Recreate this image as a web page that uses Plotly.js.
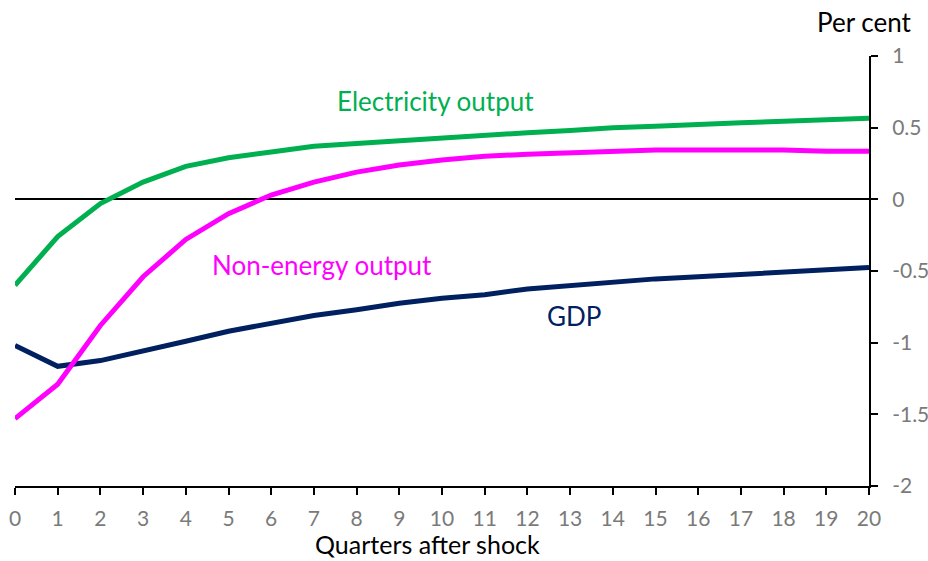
<!DOCTYPE html>
<html>
<head>
<meta charset="utf-8">
<script src="https://cdn.plot.ly/plotly-3.0.1.min.js"></script>
<style>html,body{margin:0;padding:0;background:#fff;}#chart{width:928px;height:561px;}</style>
</head>
<body>
<div id="chart"></div>
<script>
const quarters = [0,1,2,3,4,5,6,7,8,9,10,11,12,13,14,15,16,17,18,19,20];
const electricity = [-0.6,-0.26,-0.03,0.12,0.23,0.29,0.33,0.37,0.39,0.41,0.43,0.445,0.465,0.48,0.5,0.51,0.525,0.535,0.545,0.555,0.565];
const nonEnergy = [-1.53,-1.29,-0.88,-0.54,-0.28,-0.10,0.03,0.12,0.19,0.24,0.275,0.30,0.315,0.325,0.335,0.345,0.345,0.345,0.345,0.335,0.335];
const gdp = [-1.02,-1.165,-1.125,-1.06,-0.99,-0.92,-0.865,-0.81,-0.77,-0.725,-0.69,-0.665,-0.625,-0.6,-0.58,-0.555,-0.54,-0.525,-0.505,-0.495,-0.475];
const yTickVals = [1,0.5,0,-0.5,-1,-1.5,-2];
const yTickText = ["1","0.5","0","-0.5","-1","-1.5","-2"];
const xTickVals = quarters;
const xTickText = quarters.map(String);

const FONT = "Lato, 'Open Sans', sans-serif";
const traces = [
  {x: quarters, y: gdp, mode: 'lines', line: {color: '#002060', width: 5}, name: 'GDP'},
  {x: quarters, y: nonEnergy, mode: 'lines', line: {color: '#FF00FF', width: 5}, name: 'Non-energy output'},
  {x: quarters, y: electricity, mode: 'lines', line: {color: '#00B050', width: 5}, name: 'Electricity output'}
];
const layout = {
  width: 928, height: 561,
  margin: {l: 14.5, r: 59, t: 55.7, b: 75.3},
  paper_bgcolor: '#fff', plot_bgcolor: '#fff',
  showlegend: false,
  font: {family: FONT, color: '#7a7a7a', size: 21},
  xaxis: {
    range: [0, 20], tickvals: xTickVals, ticktext: xTickText,
    showgrid: false, zeroline: false, showline: true, linecolor: '#000', linewidth: 2,
    ticks: 'outside', ticklen: 7, tickwidth: 2, tickcolor: '#000',
    ticklabelstandoff: 6,
    tickfont: {family: FONT, size: 21, color: '#7a7a7a'}
  },
  yaxis: {
    range: [-2, 1], side: 'right', tickvals: yTickVals, ticktext: yTickText,
    showgrid: false, zeroline: true, zerolinecolor: '#000', zerolinewidth: 2,
    showline: true, linecolor: '#000', linewidth: 2,
    ticks: 'outside', ticklen: 7, tickwidth: 2, tickcolor: '#000',
    ticklabelstandoff: 10,
    tickfont: {family: FONT, size: 21, color: '#7a7a7a'}
  },
  annotations: [
    {x: 9.85, y: 0.684, xref: 'x', yref: 'y', text: 'Electricity output', showarrow: false, font: {family: FONT, size: 26, color: '#00B050'}},
    {x: 7.18, y: -0.46, xref: 'x', yref: 'y', text: 'Non-energy output', showarrow: false, font: {family: FONT, size: 26, color: '#FF00FF'}},
    {x: 13.1, y: -0.815, xref: 'x', yref: 'y', text: 'GDP', showarrow: false, font: {family: FONT, size: 26, color: '#002060'}},
    {x: 1.052, y: 1.078, xref: 'paper', yref: 'paper', xanchor: 'right', yanchor: 'middle', text: 'Per cent', showarrow: false, font: {family: FONT, size: 26, color: '#000'}},
    {x: 0.483, y: -0.136, xref: 'paper', yref: 'paper', xanchor: 'center', yanchor: 'middle', borderpad: 0, text: 'Quarters after shock', showarrow: false, font: {family: FONT, size: 25, color: '#000'}}
  ]
};
Plotly.newPlot('chart', traces, layout, {displayModeBar: false, staticPlot: true});
</script>
</body>
</html>
